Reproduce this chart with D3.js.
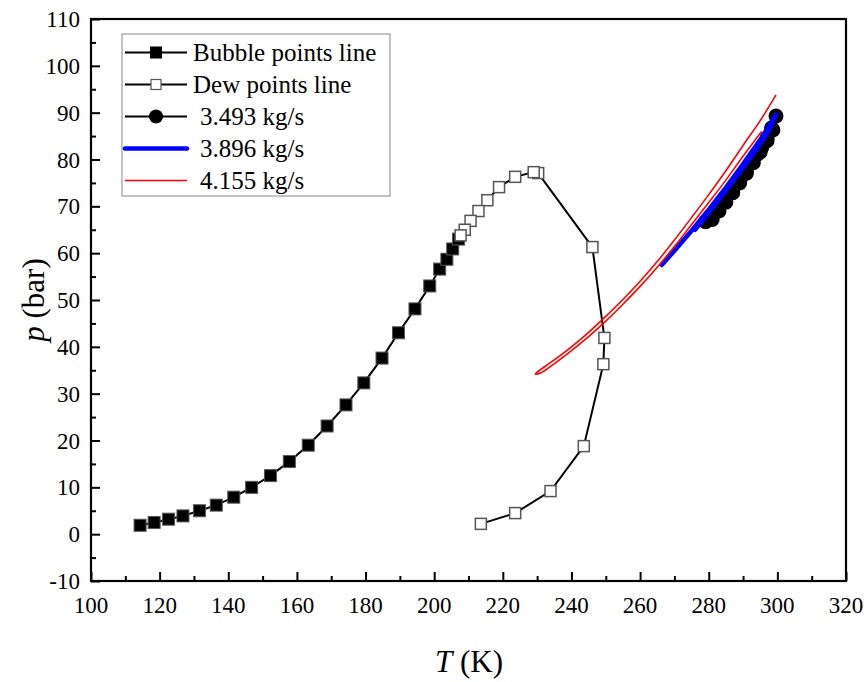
<!DOCTYPE html>
<html lang="en">
<head>
<meta charset="utf-8">
<script src="https://d3js.org/d3.v7.min.js"></script>
</head>
<body style="margin:0">
<svg width="867" height="682"></svg>
<script>
// bubble points (filled squares)
const bubbleT = [114.3,118.4,122.6,126.8,131.6,136.5,141.6,146.8,152.3,157.8,163.3,168.8,174.3,179.5,184.8,189.6,194.4,198.7,201.6,203.7,205.4,207.1];
const bubbleP = [1.9,2.5,3.2,3.9,5.0,6.2,7.9,10.0,12.5,15.5,19.0,23.1,27.6,32.3,37.6,43.0,48.1,53.0,56.6,58.7,60.9,63.0];
// dew points (open squares)
const dewT = [213.6,223.6,233.9,243.6,249.3,249.6,246.1,230.3,229.0,223.6,218.9,215.5,212.9,210.6,208.9,207.7];
const dewP = [2.2,4.5,9.2,18.8,36.3,41.9,61.3,77.1,77.3,76.3,74.1,71.3,69.0,66.9,65.0,63.8];
// 3.493 kg/s (black circles)
const flowAT = [279.1,280.5,282,283.5,285,286.5,288,289.5,291,292.5,294,295.5,297,298.3,299.6,298.7,297,295,293,291,289,287,285,283,281];
const flowAP = [66.7,67.9,69.2,70.5,71.9,73.3,74.8,76.3,77.8,79.4,81.0,82.7,84.6,86.7,89.3,86.3,84.0,81.6,79.3,77.1,75.0,72.9,70.9,69.0,67.2];
// 3.896 kg/s (blue)
const flowBT = [266.3,270,275,280,285,290,295,299.8,297.3,292,286,280,276];
const flowBP = [57.5,60.5,64.8,69.3,74.0,79.0,84.2,89.9,85.8,80.2,74.3,68.6,65.0];
// 4.155 kg/s (red)
const flowCT = [295.4,290,285,280,275,270,265,260,255,250,245,240,235,231,229.5,230,235,240,245,250,255,260,265,270,275,280,285,290,295,299.6];
const flowCP = [86.0,80.7,75.6,70.8,66.1,61.4,57.0,52.9,49.1,45.5,42.2,39.2,36.4,34.4,34.2,34.6,37.2,40.0,43.1,46.5,50.1,54.0,58.2,62.8,67.6,72.5,77.6,83.0,88.3,93.8];

const xTicks = d3.range(100, 321, 20);
const xMinor = d3.range(110, 320, 20);
const yTicks = d3.range(-10, 111, 10);
const yMinor = d3.range(-5, 110, 10);

const svg = d3.select("svg");
const x = d3.scaleLinear().domain([100, 320]).range([91, 846]);
const y = d3.scaleLinear().domain([-10, 110]).range([581, 19]);

const zip = (a, b) => a.map((d, i) => [d, b[i]]);
const line = d3.line().x(d => x(d[0])).y(d => y(d[1]));

// plain text helper, serif like the original
function label(parent, str, size) {
  return parent.append("text").attr("font-family", "Liberation Serif")
    .style("font-family", "Liberation Serif").attr("font-size", size).text(str);
}

// frame
svg.append("rect")
  .attr("x", x(100)).attr("y", y(110))
  .attr("width", x(320) - x(100)).attr("height", y(-10) - y(110))
  .attr("fill", "none").attr("stroke", "#000").attr("stroke-width", 2.2);

// ticks pointing inward (no labels from the axis, labels added below)
svg.append("g").attr("transform", "translate(0,581)")
  .call(d3.axisBottom(x).tickValues(xMinor).tickSize(-5).tickFormat(""))
  .call(g => g.select(".domain").remove())
  .call(g => g.selectAll("line").attr("stroke-width", 2));
svg.append("g").attr("transform", "translate(0,581)")
  .call(d3.axisBottom(x).tickValues(xTicks).tickSize(-9).tickFormat(""))
  .call(g => g.select(".domain").remove())
  .call(g => g.selectAll("line").attr("stroke-width", 2));
svg.append("g").attr("transform", "translate(91,0)")
  .call(d3.axisLeft(y).tickValues(yMinor).tickSize(-5).tickFormat(""))
  .call(g => g.select(".domain").remove())
  .call(g => g.selectAll("line").attr("stroke-width", 2));
svg.append("g").attr("transform", "translate(91,0)")
  .call(d3.axisLeft(y).tickValues(yTicks).tickSize(-9).tickFormat(""))
  .call(g => g.select(".domain").remove())
  .call(g => g.selectAll("line").attr("stroke-width", 2));

xTicks.forEach(t => {
  label(svg, String(t), 23).attr("x", x(t)).attr("y", 613).attr("text-anchor", "middle");
});
yTicks.forEach(t => {
  label(svg, String(t), 23).attr("x", 80).attr("y", y(t) + 8).attr("text-anchor", "end");
});

// axis titles
const xt = label(svg, "", 31).attr("x", 469).attr("y", 672).attr("text-anchor", "middle");
xt.append("tspan").attr("font-style", "italic").text("T");
xt.append("tspan").text(" (K)");
const yt = label(svg, "", 31).attr("transform", "translate(44,300) rotate(-90)").attr("text-anchor", "middle");
yt.append("tspan").attr("font-style", "italic").text("p");
yt.append("tspan").text(" (bar)");

// bubble line
const bubble = zip(bubbleT, bubbleP);
svg.append("path").attr("d", line(bubble)).attr("fill", "none").attr("stroke", "#000").attr("stroke-width", 2);
svg.selectAll(".bub").data(bubble).enter().append("rect")
  .attr("x", d => x(d[0]) - 6).attr("y", d => y(d[1]) - 6)
  .attr("width", 12).attr("height", 12)
  .attr("fill", "#000").attr("stroke", "#555").attr("stroke-width", 1);

// dew line
const dew = zip(dewT, dewP);
svg.append("path").attr("d", line(dew)).attr("fill", "none").attr("stroke", "#000").attr("stroke-width", 2);
svg.selectAll(".dew").data(dew).enter().append("rect")
  .attr("x", d => x(d[0]) - 5.5).attr("y", d => y(d[1]) - 5.5)
  .attr("width", 11).attr("height", 11)
  .attr("fill", "#fff").attr("stroke", "#555").attr("stroke-width", 1.5);

// 3.493 kg/s
const flowA = zip(flowAT, flowAP);
svg.append("path").attr("d", line(flowA)).attr("fill", "none").attr("stroke", "#000").attr("stroke-width", 3);
svg.selectAll(".fa").data(flowA).enter().append("circle")
  .attr("cx", d => x(d[0])).attr("cy", d => y(d[1])).attr("r", 7.5).attr("fill", "#000");

// 3.896 kg/s
svg.append("path").attr("d", line(zip(flowBT, flowBP))).attr("fill", "none")
  .attr("stroke", "#0000ff").attr("stroke-width", 4.5).attr("stroke-linecap", "round");

// 4.155 kg/s
svg.append("path").attr("d", d3.line().curve(d3.curveCatmullRom).x(d => x(d[0])).y(d => y(d[1]))(zip(flowCT, flowCP)))
  .attr("fill", "none").attr("stroke", "#ff0000").attr("stroke-width", 1.6);

// legend
const legend = svg.append("g");
legend.append("rect").attr("x", 122).attr("y", 34).attr("width", 268).attr("height", 162)
  .attr("fill", "#fff").attr("stroke", "#888").attr("stroke-width", 1);
const legendItems = [
  { label: "Bubble points line", type: "fsq" },
  { label: "Dew points line", type: "osq" },
  { label: "3.493 kg/s", type: "circ" },
  { label: "3.896 kg/s", type: "blue" },
  { label: "4.155 kg/s", type: "red" }
];
legendItems.forEach((it, i) => {
  const cy = 52.5 + i * 32;
  const g = legend.append("g");
  if (it.type === "blue") {
    g.append("line").attr("x1", 125).attr("x2", 187).attr("y1", cy).attr("y2", cy)
      .attr("stroke", "#0000ff").attr("stroke-width", 4.5).attr("stroke-linecap", "round");
  } else if (it.type === "red") {
    g.append("line").attr("x1", 125).attr("x2", 187).attr("y1", cy).attr("y2", cy)
      .attr("stroke", "#ff0000").attr("stroke-width", 1.6);
  } else {
    g.append("line").attr("x1", 125).attr("x2", 187).attr("y1", cy).attr("y2", cy)
      .attr("stroke", "#000").attr("stroke-width", 2);
    if (it.type === "fsq") g.append("rect").attr("x", 150).attr("y", cy - 6).attr("width", 12).attr("height", 12).attr("fill", "#000");
    if (it.type === "osq") g.append("rect").attr("x", 151).attr("y", cy - 5).attr("width", 10).attr("height", 10).attr("fill", "#fff").attr("stroke", "#555").attr("stroke-width", 1.2);
    if (it.type === "circ") g.append("circle").attr("cx", 156).attr("cy", cy).attr("r", 7).attr("fill", "#000");
  }
  label(g, it.label, 25).attr("x", i < 2 ? 193 : 200).attr("y", cy + 8);
});
</script>
</body>
</html>
